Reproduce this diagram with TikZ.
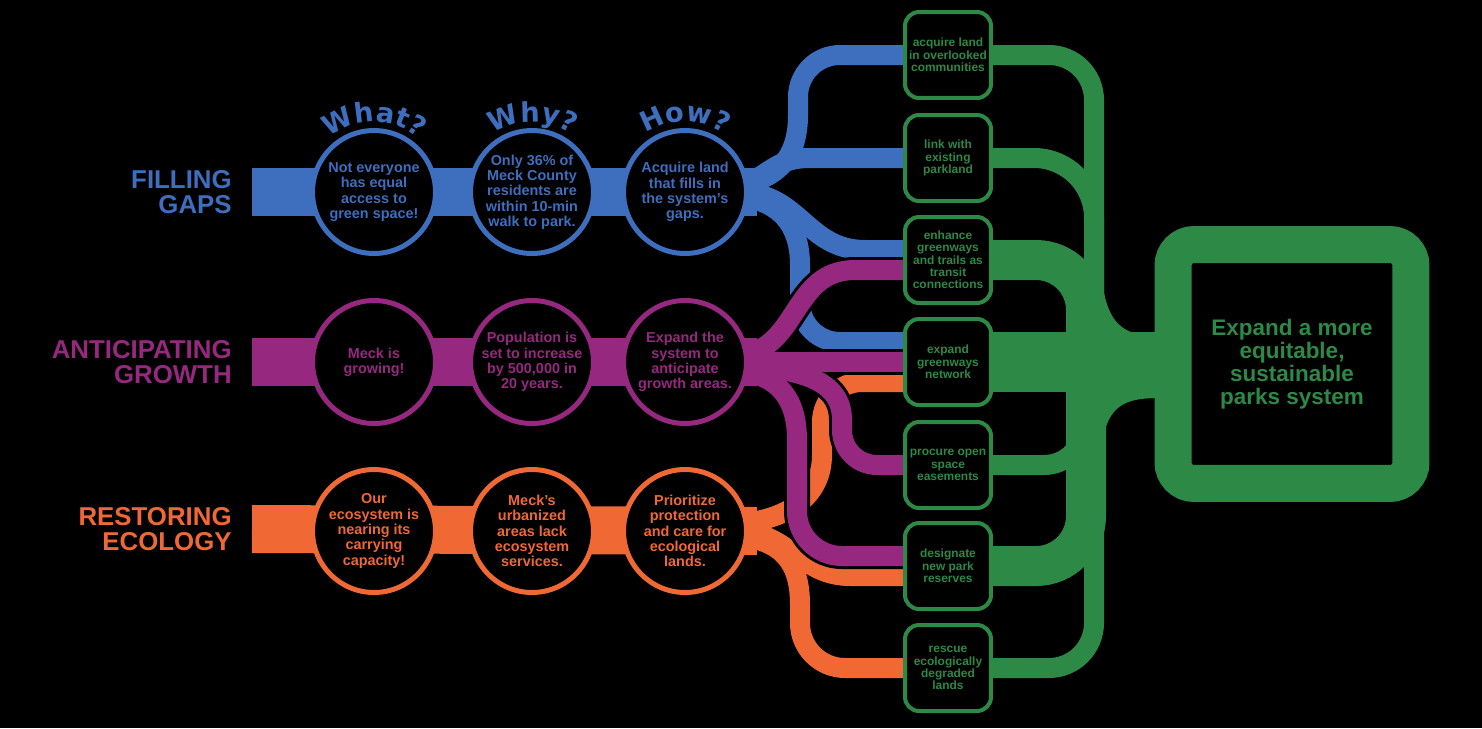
\documentclass[tikz,border=0pt]{standalone}
\usepackage{fontspec}
\setmainfont{Liberation Sans}
\newfontfamily\hdfont{DejaVu Sans}
\usetikzlibrary{calc,decorations.text}
\definecolor{cblue}{HTML}{3E6EBE}
\definecolor{cpurple}{HTML}{96287F}
\definecolor{corange}{HTML}{F06834}
\definecolor{cgreen}{HTML}{2C8946}
\newcommand{\hdstyle}{\hdfont\bfseries\fontsize{15.5}{15.5}\selectfont}
\pgfdeclarelayer{lanes}
\pgfsetlayers{lanes,main}

\begin{document}
\begin{tikzpicture}[x=0.02cm, y=-0.02cm,
  lbl/.style={anchor=east, align=right, inner sep=0pt, text=#1,
    font=\fontsize{14.7}{14.2}\selectfont\bfseries},
  circ/.style={circle, draw=#1, text=#1, fill=black, line width=0.1cm,
    minimum size=2.46cm, inner sep=0pt, align=center,
    font=\fontsize{8.2}{8.7}\selectfont\bfseries},
  act/.style={draw=cgreen, text=cgreen, fill=black, rounded corners=0.28cm,
    line width=0.08cm, minimum width=1.72cm, minimum height=1.72cm,
    inner sep=0pt, align=center, font=\fontsize{6.8}{7}\selectfont\bfseries},
  goalbox/.style={draw=cgreen, text=cgreen, fill=black, line width=0.74cm,
    rounded corners=0.42cm, minimum width=4.76cm, minimum height=4.78cm,
    inner sep=0pt, align=center, font=\fontsize{12.8}{13}\selectfont\bfseries},
  bar/.style={draw=#1, line width=0.96cm},
  glane/.style={draw=cgreen, line width=#1},
  head/.style={decorate, decoration={text along path, text align=center,
    text color=#1}}]

  % row titles
  \node[lbl=cblue] (gapLbl) at (232,192) {FILLING\\GAPS};
  \node[lbl=cpurple] (growLbl) at (232,362) {ANTICIPATING\\GROWTH};
  \node[lbl=corange] (ecoLbl) at (232,529) {RESTORING\\ECOLOGY};

  % what / why / how circles
  \node[circ=cblue] (gapWhat) at (374,192) {Not everyone\\has equal\\access to\\green space!};
  \node[circ=cblue] (gapWhy) at (532,192) {Only 36\% of\\Meck County\\residents are\\within 10-min\\walk to park.};
  \node[circ=cblue] (gapHow) at (685,192) {Acquire land\\that fills in\\the system's\\gaps.};
  \node[circ=cpurple] (growWhat) at (374,362) {Meck is\\growing!};
  \node[circ=cpurple] (growWhy) at (532,362) {Population is\\set to increase\\by 500,000 in\\20 years.};
  \node[circ=cpurple] (growHow) at (685,362) {Expand the\\system to\\anticipate\\growth areas.};
  \node[circ=corange] (ecoWhat) at (374,531) {Our\\ecosystem is\\nearing its\\carrying\\capacity!};
  \node[circ=corange] (ecoWhy) at (532,531) {Meck's\\urbanized\\areas lack\\ecosystem\\services.};
  \node[circ=corange] (ecoHow) at (685,531) {Prioritize\\protection\\and care for\\ecological\\lands.};

  \path[head=cblue, decoration={text={|\hdstyle|What?}}] (gapWhat.center) ++(210:70) arc[start angle=210, end angle=330, radius=70];
  \path[head=cblue, decoration={text={|\hdstyle|Why?}}] (gapWhy.center) ++(210:70) arc[start angle=210, end angle=330, radius=70];
  \path[head=cblue, decoration={text={|\hdstyle|How?}}] (gapHow.center) ++(210:70) arc[start angle=210, end angle=330, radius=70];

  % actions
  \node[act] (acq) at (948,55) {acquire land\\in overlooked\\communities};
  \node[act] (link) at (948,158) {link with\\existing\\parkland};
  \node[act] (trail) at (948,260) {enhance\\greenways\\and trails as\\transit\\connections};
  \node[act] (grnwy) at (948,362) {expand\\greenways\\network};
  \node[act] (esmt) at (948,465) {procure open\\space\\easements};
  \node[act] (rsrv) at (948,566) {designate\\new park\\reserves};
  \node[act] (rescue) at (948,668) {rescue\\ecologically\\degraded\\lands};

  \node[goalbox] (goal) at (1292,364) {Expand a more\\equitable,\\sustainable\\parks system};

  \coordinate (gapStart) at (252,192);
  \coordinate (growStart) at (252,362);
  \coordinate (ecoStart) at (252,529);

  \begin{pgfonlayer}{lanes}
    \fill[black] (0,0) rectangle (1482,728);
    % blue branches
    \foreach \lc/\lw in {black/0.52cm,cblue/0.4cm} {
      \draw[draw=\lc, line width=\lw] ($(gapHow)+(50,-6)$) .. controls (780,180) and (798,155) .. (798,115)
        [rounded corners=0.84cm] -- (798,55) -- (acq.west);
      \draw[draw=\lc, line width=\lw] ($(gapHow)+(50,-2)$) .. controls (770,175) and (775,158) .. (810,158) -- (link.west);
      \draw[draw=\lc, line width=\lw] ($(gapHow)+(50,0)$) .. controls (800,190) and (805,250) .. (865,250)
        -- ($(trail.west)+(0,-10)$);
      \draw[draw=\lc, line width=\lw] ($(gapHow)+(50,4)$) .. controls (780,200) and (800,225) .. (800,265)
        [rounded corners=0.8cm] -- (800,342) -- ($(grnwy.west)+(0,-20)$);
    }
    % orange branches
    \foreach \lc/\lw in {black/0.52cm,corange/0.4cm} {
      \draw[draw=\lc, line width=\lw] ($(ecoHow)+(50,-7)$) .. controls (790,520) and (822,495) .. (822,455)
        [rounded corners=0.8cm] -- (822,382) -- ($(grnwy.west)+(0,20)$);
      \draw[draw=\lc, line width=\lw] ($(ecoHow)+(50,-1)$) .. controls (790,532) and (800,576) .. (850,576)
        -- ($(rsrv.west)+(0,10)$);
      \draw[draw=\lc, line width=\lw] ($(ecoHow)+(50,5)$) .. controls (785,540) and (800,565) .. (800,605)
        [rounded corners=0.9cm] -- (800,668) -- (rescue.west);
    }
    % purple branches
    \foreach \lc/\lw in {black/0.52cm,cpurple/0.4cm} {
      \draw[draw=\lc, line width=\lw] ($(growHow)+(50,-6)$) .. controls (800,352) and (790,270) .. (855,270)
        -- ($(trail.west)+(0,10)$);
      \draw[draw=\lc, line width=\lw] ($(growHow)+(50,0)$) -- (grnwy.west);
      \draw[draw=\lc, line width=\lw] ($(growHow)+(50,4)$) .. controls (800,368) and (842,380) .. (842,420)
        [rounded corners=0.7cm] -- (842,465) -- (esmt.west);
      \draw[draw=\lc, line width=\lw] ($(growHow)+(50,8)$) .. controls (780,375) and (797,400) .. (797,440)
        [rounded corners=0.9cm] -- (797,556) -- ($(rsrv.west)+(0,-10)$);
    }
    \draw[bar=cblue] (gapStart) -- ($(gapHow)+(72,0)$);
    \draw[bar=cpurple] (growStart) -- ($(growHow)+(72,0)$);
    \draw[bar=corange] (ecoStart) -- ($(ecoHow)+(72,0)$);

    % green trunk
    \draw[glane=0.4cm, rounded corners=0.9cm] (acq.east) -- (1094,55) -- (1094,364);
    \draw[glane=0.4cm, rounded corners=1.2cm] (link.east) -- (1094,158) -- (1094,364);
    \draw[glane=0.8cm, rounded corners=1cm] (trail.east) -- (1086,260) -- (1086,364);
    \draw[glane=1.2cm] (grnwy.east) -- (grnwy.east -| goal.west);
    \draw[glane=0.4cm, rounded corners=0.8cm] (esmt.east) -- (1084,465) -- (1084,364);
    \draw[glane=0.8cm, rounded corners=1cm] (rsrv.east) -- (1086,566) -- (1086,364);
    \draw[glane=0.4cm, rounded corners=0.9cm] (rescue.east) -- (1094,668) -- (1094,364);
    \fill[cgreen] (1098,250) .. controls (1104,320) and (1115,336) .. (1160,336) -- (1160,398)
      .. controls (1115,398) and (1104,410) .. (1098,470) -- cycle;
  \end{pgfonlayer}
\end{tikzpicture}
\end{document}
